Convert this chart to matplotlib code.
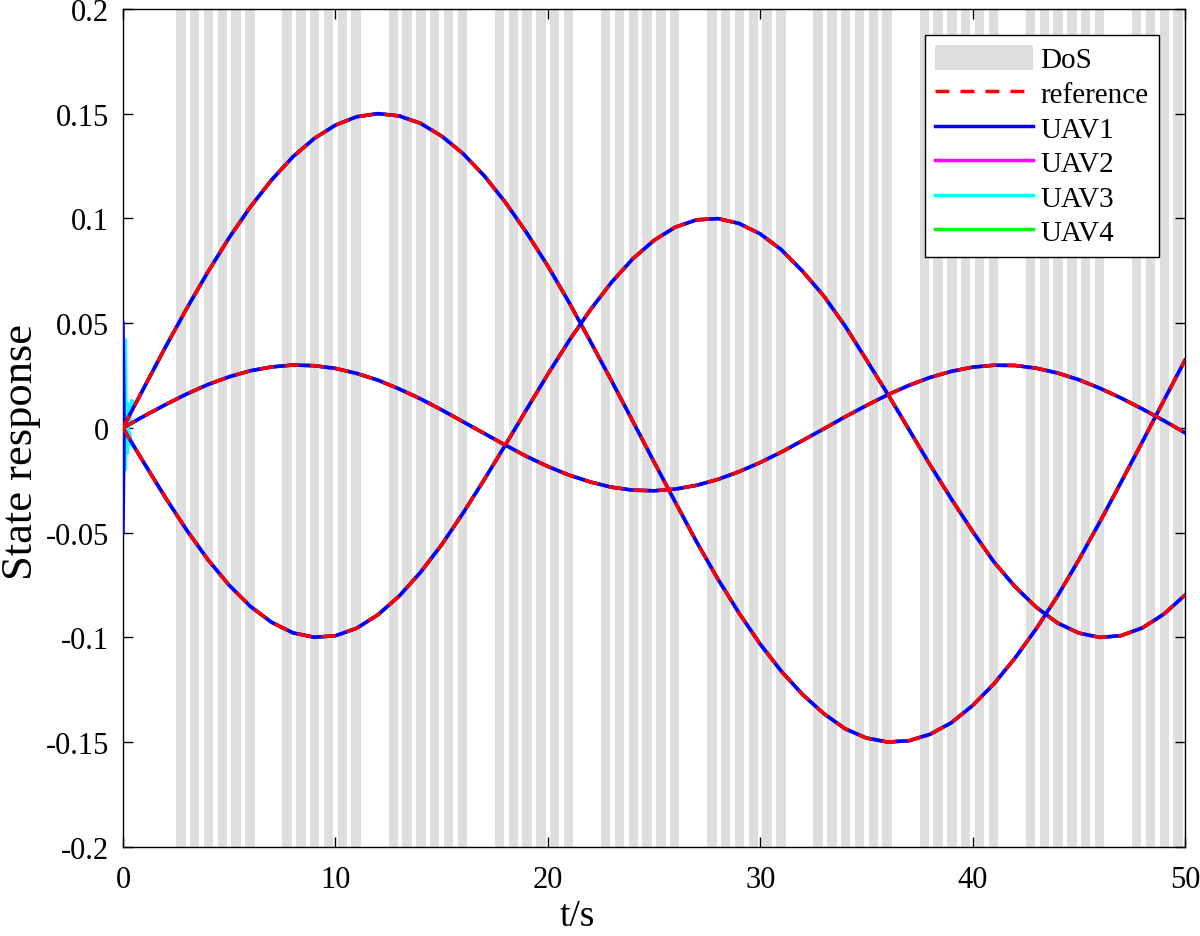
import numpy as np
import matplotlib
matplotlib.use("Agg")
import matplotlib.pyplot as plt
from matplotlib.patches import Patch
from matplotlib.lines import Line2D
from matplotlib.ticker import FuncFormatter

plt.rcParams['font.family'] = ['Liberation Serif', 'DejaVu Serif']
plt.rcParams['axes.unicode_minus'] = False

t_ref = np.arange(0, 51)
ref_a = [0.0000, 0.0194, 0.0386, 0.0570, 0.0745, 0.0908, 0.1055, 0.1184, 0.1294, 0.1381,
         0.1445, 0.1485, 0.1500, 0.1489, 0.1454, 0.1393, 0.1310, 0.1204, 0.1077, 0.0932,
         0.0773, 0.0599, 0.0414, 0.0225, 0.0032, -0.0162, -0.0354, -0.0543, -0.0720, -0.0883,
         -0.1032, -0.1162, -0.1273, -0.1364, -0.1436, -0.1480, -0.1499, -0.1493, -0.1462, -0.1407,
         -0.1325, -0.1222, -0.1098, -0.0958, -0.0802, -0.0630, -0.0447, -0.0257, -0.0065, 0.0130,
         0.0323]
ref_b = [0.0000, -0.0169, -0.0333, -0.0488, -0.0629, -0.0751, -0.0852, -0.0928, -0.0978, -0.0999,
         -0.0992, -0.0956, -0.0892, -0.0803, -0.0690, -0.0558, -0.0408, -0.0248, -0.0082, 0.0088,
         0.0256, 0.0416, 0.0563, 0.0695, 0.0807, 0.0895, 0.0958, 0.0993, 0.0999, 0.0976,
         0.0926, 0.0850, 0.0747, 0.0629, 0.0486, 0.0325, 0.0162, -0.0007, -0.0177, -0.0339,
         -0.0494, -0.0639, -0.0758, -0.0856, -0.0931, -0.0979, -0.1000, -0.0991, -0.0954, -0.0889,
         -0.0798]
ref_c = [0.0000, 0.0057, 0.0111, 0.0162, 0.0207, 0.0244, 0.0273, 0.0291, 0.0300, 0.0297,
         0.0284, 0.0260, 0.0228, 0.0186, 0.0139, 0.0086, 0.0030, -0.0026, -0.0082, -0.0136,
         -0.0184, -0.0225, -0.0258, -0.0283, -0.0297, -0.0300, -0.0292, -0.0274, -0.0246, -0.0209,
         -0.0165, -0.0115, -0.0060, -0.0004, 0.0053, 0.0107, 0.0158, 0.0203, 0.0241, 0.0270,
         0.0290, 0.0299, 0.0298, 0.0285, 0.0262, 0.0230, 0.0189, 0.0142, 0.0090, 0.0035,
         -0.0023]

# early transient of the UAVs (t < 1 s), then they sit on the reference
t_early = [0.0, 0.05, 0.10, 0.15, 0.20, 0.30, 0.40, 0.60]
uav_early = {
    'UAV1': ([0.050, 0.001, 0.002, 0.003, 0.004, 0.006, 0.008, 0.0117],
             [-0.050, -0.001, -0.0017, -0.0026, -0.0034, -0.0051, -0.0068, -0.0102],
             [0.000, 0.0002, 0.0006, 0.0009, 0.0011, 0.0017, 0.0023, 0.0034]),
    'UAV2': ([0.004, 0.003, 0.002, 0.003, 0.004, 0.006, 0.008, 0.0117],
             [-0.004, -0.002, -0.0017, -0.0026, -0.0034, -0.0051, -0.0068, -0.0102],
             [0.002, 0.001, 0.0006, 0.0009, 0.0011, 0.0017, 0.0023, 0.0034]),
    'UAV3': ([0.000, 0.030, 0.042, -0.004, 0.012, 0.002, 0.013, 0.0117],
             [0.000, -0.012, -0.020, -0.004, -0.012, -0.002, -0.008, -0.0102],
             [0.000, 0.010, -0.008, 0.008, -0.003, 0.004, 0.002, 0.0034]),
    'UAV4': ([0.030, 0.006, 0.002, 0.003, 0.004, 0.006, 0.008, 0.0117],
             [-0.030, -0.004, -0.0017, -0.0026, -0.0034, -0.0051, -0.0068, -0.0102],
             [0.010, 0.001, 0.0006, 0.0009, 0.0011, 0.0017, 0.0023, 0.0034]),
}
uav_colors = {'UAV1': '#0000ff', 'UAV2': '#ff00ff', 'UAV3': '#00ffff', 'UAV4': '#00ff00'}

# DoS attack intervals: each 5 s cycle has a burst of short attacks
dos_groups = [2.5, 7.5, 12.5, 17.5, 22.5, 27.5, 32.5, 37.5, 42.5, 47.5]
dos_offsets = [0.0, 0.65, 1.30, 1.95, 2.60, 3.25]
dos_width = 0.45

fig = plt.figure(figsize=(12, 9.37), dpi=100)
ax = fig.add_axes([0.1025, 0.095, 0.885, 0.8945])

for g in dos_groups:
    for o in dos_offsets:
        ax.axvspan(g + o, g + o + dos_width, color='#dedede', lw=0, zorder=0)

t_uav = np.concatenate([t_early, t_ref[1:]])
refs = [ref_a, ref_b, ref_c]
for name in ['UAV4', 'UAV3', 'UAV2', 'UAV1']:
    for k in range(3):
        y = np.concatenate([uav_early[name][k], refs[k][1:]])
        ax.plot(t_uav, y, color=uav_colors[name], lw=2.5, zorder=2.6,
                solid_joinstyle='round')

for r in refs:
    ax.plot(t_ref, r, color='#ff0000', lw=2.5, dashes=(4, 3.2), zorder=3,
            dash_joinstyle='round')

ax.set_xlim(0, 50)
ax.set_ylim(-0.2, 0.2)
ax.set_xticks([0, 10, 20, 30, 40, 50])
ax.set_yticks(np.arange(-0.2, 0.2001, 0.05))
ax.yaxis.set_major_formatter(FuncFormatter(lambda v, p: ('%g' % round(v, 2)) if abs(v) > 1e-9 else '0'))
ax.tick_params(direction='in', length=7.5, width=1, labelsize=22, top=True, right=True)
ax.tick_params(axis='x', pad=13)
ax.tick_params(axis='y', pad=10)
for s in ax.spines.values():
    s.set_linewidth(1)
ax.set_xlabel('t/s', fontsize=27)
ax.set_ylabel('State response', fontsize=32)
ax.xaxis.set_label_coords(0.4275, -0.062)
ax.yaxis.set_label_coords(-0.077, 0.4726)

handles = [Patch(facecolor='#dedede', edgecolor='none', label='DoS'),
           Line2D([], [], color='#ff0000', lw=2.5, dashes=(4, 3.2), label='reference')]
handles += [Line2D([], [], color=uav_colors[n], lw=2.5, label=n) for n in ['UAV1', 'UAV2', 'UAV3', 'UAV4']]
leg = ax.legend(handles=handles, loc='upper right', fontsize=21, fancybox=False, framealpha=1,
                edgecolor='black', handlelength=3.36, handleheight=0.9, handletextpad=0.25,
                labelspacing=0.22, borderpad=0.35, borderaxespad=0.9)
leg.get_frame().set_linewidth(1)

fig.savefig('out.png', dpi=100)
